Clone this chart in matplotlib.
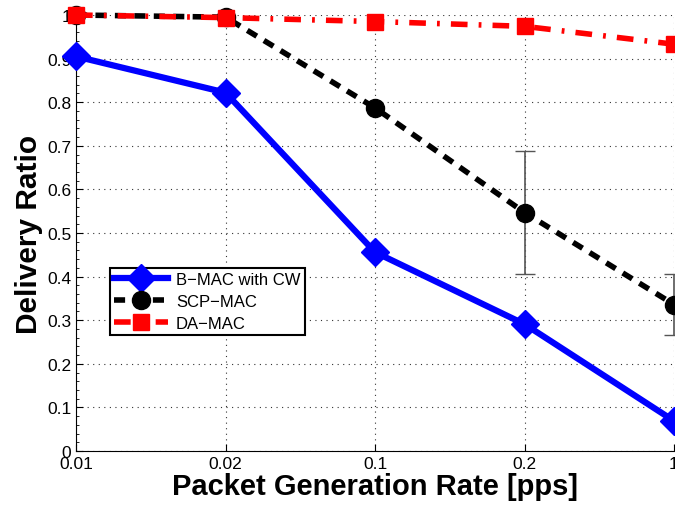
import numpy as np
import matplotlib.pyplot as plt
from matplotlib.ticker import AutoMinorLocator

rates = ["0.01", "0.02", "0.1", "0.2", "1"]
bmac = [0.905, 0.822, 0.456, 0.291, 0.069]
scpmac = [1.0, 0.995, 0.787, 0.547, 0.336]
scp_err_lo = [0, 0, 0, 0.141, 0.071]
scp_err_hi = [0, 0, 0, 0.141, 0.069]
damac = [1.0, 0.994, 0.985, 0.974, 0.933]
yticks = [0, 0.1, 0.2, 0.3, 0.4, 0.5, 0.6, 0.7, 0.8, 0.9, 1]

plt.rcParams['font.family'] = ['Liberation Sans', 'DejaVu Sans']

fig = plt.figure(figsize=(6.75, 5.1), dpi=100)
ax = fig.add_axes([76/675, 58/510, 598/675, 436/510])
x = np.arange(len(rates))

ax.plot(x, bmac, color='blue', lw=4.5, marker='D', ms=14, clip_on=False,
        label='B\u2212MAC with CW', zorder=3)
ax.errorbar(x[3:], scpmac[3:], yerr=[scp_err_lo[3:], scp_err_hi[3:]], fmt='none',
            ecolor='#555555', elinewidth=1.2, capsize=7, zorder=2, clip_on=False)
ax.plot(x, scpmac, color='black', lw=4, ls=(0, (2, 1.5)), marker='o', ms=13,
        clip_on=False, label='SCP\u2212MAC', zorder=4)
ax.plot(x, damac, color='red', lw=4, ls=(0, (3, 2, 0.5, 2)), marker='s', ms=11,
        clip_on=False, label='DA\u2212MAC', zorder=5)

ax.set_xlim(0, 4)
ax.set_ylim(0, 1)
ax.set_xticks(x)
ax.set_xticklabels(rates)
ax.set_yticks(yticks)
ax.set_yticklabels([f"{v:g}" for v in yticks])
ax.yaxis.set_minor_locator(AutoMinorLocator(5))
ax.tick_params(direction='in', labelsize=12.5, length=5)
ax.tick_params(which='minor', direction='in', length=2)
ax.grid(True, ls=(0, (1, 4)), color='#333333', lw=0.8)
ax.spines['top'].set_visible(False)
ax.spines['right'].set_visible(False)

ax.set_xlabel('Packet Generation Rate [pps]', fontsize=21, fontweight='bold', labelpad=1)
ax.set_ylabel('Delivery Ratio', fontsize=21.5, fontweight='bold', labelpad=3)

leg = ax.legend(loc='lower left', bbox_to_anchor=(0.057, 0.265), fontsize=12,
                fancybox=False, edgecolor='black', framealpha=1, handlelength=3.2,
                borderpad=0.25, labelspacing=0.42, handletextpad=0.5, borderaxespad=0)
leg.get_frame().set_linewidth(1.5)

fig.savefig('out.png', dpi=100)
